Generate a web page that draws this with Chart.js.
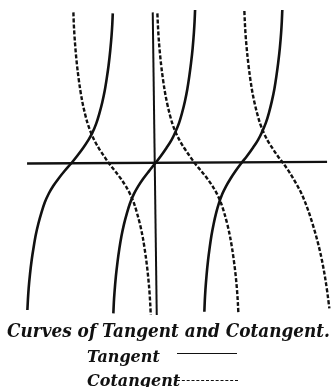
<!DOCTYPE html>
<html>
<head>
<meta charset="utf-8">
<script src="https://cdn.jsdelivr.net/npm/chart.js@4"></script>
<style>
  html, body { margin: 0; padding: 0; background: #fff; }
  #wrap { position: relative; width: 335px; height: 387px; overflow: hidden; }
  #plot { position: absolute; left: 0; top: 0; }
  .cap { position: absolute; font-family: "DejaVu Serif", serif; font-style: italic; font-weight: bold; color: #111; white-space: nowrap; transform-origin: 0 0; }
  .sample { position: absolute; }
</style>
</head>
<body>
<div id="wrap">
  <canvas id="plot" width="335" height="320"></canvas>
  <div class="cap" id="title" style="left:7px; top:319px; font-size:19px;">Curves of Tangent and Cotangent.</div>
  <div class="cap" style="left:87px; top:347px; font-size:16px;">Tangent</div>
  <div class="sample" style="left:177px; top:353px; width:60px; border-top:1.6px solid #111;"></div>
  <div class="cap" style="left:87px; top:371px; font-size:16px;">Cotangent</div>
  <div class="sample" style="left:177px; top:380px; width:61px; border-top:1.4px dashed #111;"></div>
</div>
<script>
// x in degrees (0 at the origin), y in tangent units
const tan1X = [-264.2, -263.1, -261.6, -258.8, -255.1, -251.1, -246.8, -241.3, -234.8, -228.3, -219.6, -210.8, -200.0, -186.9, -173.8,
  -161.3, -148.9, -138.5, -130.1, -121.8, -115.6, -109.3, -104.1, -100.0, -96.2, -92.7, -90.0, -88.5, -87.5];
const tan1Y = [-4.44, -4.12, -3.79, -3.35, -2.90, -2.52, -2.16, -1.81, -1.47, -1.18, -0.90, -0.68, -0.46, -0.22, 0,
  0.23, 0.47, 0.70, 0.92, 1.21, 1.50, 1.85, 2.21, 2.58, 2.97, 3.43, 3.88, 4.22, 4.55];

const tan2X = [-86.3, -85.3, -83.8, -81.1, -77.6, -73.8, -69.7, -64.5, -58.2, -52.0, -43.7, -35.4, -25.0, -12.5, 0,
  12.0, 23.9, 33.9, 41.9, 49.9, 55.8, 61.8, 66.8, 70.8, 74.4, 77.8, 80.4, 81.8, 82.8];
const tan2Y = [-4.54, -4.21, -3.88, -3.42, -2.97, -2.57, -2.21, -1.85, -1.50, -1.21, -0.92, -0.70, -0.47, -0.23, 0,
  0.23, 0.48, 0.71, 0.95, 1.24, 1.53, 1.89, 2.26, 2.64, 3.04, 3.50, 3.97, 4.31, 4.65];

const tan3X = [102.0, 102.9, 104.2, 106.6, 109.7, 113.0, 116.6, 121.2, 126.7, 132.2, 139.5, 146.8, 156.0, 166.9, 177.9,
  190.3, 202.6, 212.9, 221.1, 229.4, 235.5, 241.7, 246.9, 251.0, 254.7, 258.2, 260.9, 262.3, 263.3];
const tan3Y = [-4.49, -4.16, -3.83, -3.38, -2.93, -2.55, -2.19, -1.83, -1.48, -1.20, -0.91, -0.69, -0.46, -0.22, 0,
  0.23, 0.48, 0.71, 0.95, 1.24, 1.53, 1.89, 2.26, 2.64, 3.04, 3.50, 3.97, 4.31, 4.65];

const cot1X = [-169.0, -168.2, -166.9, -164.6, -161.6, -158.4, -154.8, -150.4, -145.0, -139.7, -132.6, -125.5, -116.6, -105.9, -95.2,
  -82.7, -70.3, -59.9, -51.5, -43.2, -37.0, -30.7, -25.5, -21.4, -17.6, -14.1, -11.4, -10.0, -8.9];
const cot1Y = [4.58, 4.25, 3.91, 3.45, 2.99, 2.60, 2.23, 1.86, 1.51, 1.22, 0.93, 0.70, 0.47, 0.23, 0,
  -0.23, -0.47, -0.70, -0.93, -1.22, -1.52, -1.87, -2.23, -2.60, -3.00, -3.46, -3.92, -4.25, -4.59];

const cot2X = [4.8, 5.8, 7.1, 9.5, 12.7, 16.1, 19.9, 24.6, 30.2, 35.8, 43.4, 50.9, 60.3, 71.5, 82.8,
  95.7, 108.7, 119.5, 128.1, 136.8, 143.2, 149.7, 155.1, 159.4, 163.3, 167.0, 169.8, 171.3, 172.4];
const cot2Y = [4.55, 4.22, 3.88, 3.43, 2.97, 2.58, 2.21, 1.85, 1.50, 1.21, 0.92, 0.70, 0.47, 0.23, 0,
  -0.23, -0.47, -0.70, -0.92, -1.21, -1.50, -1.85, -2.21, -2.57, -2.97, -3.42, -3.88, -4.21, -4.54];

const cot3X = [184.8, 185.8, 187.1, 189.7, 193.0, 196.5, 200.3, 205.2, 211.0, 216.9, 224.7, 232.4, 242.2, 253.8, 265.5,
  277.9, 289.7, 304.2, 316.6, 327.0, 337.3, 345.0, 351.8, 356.5, 360.7];
const cot3Y = [4.62, 4.28, 3.94, 3.48, 3.02, 2.62, 2.25, 1.88, 1.53, 1.23, 0.94, 0.71, 0.48, 0.23, 0,
  -0.26, -0.55, -0.95, -1.41, -1.88, -2.42, -2.91, -3.45, -3.91, -4.39];

// the two drawn axes (slightly off true in the print)
const xAxisX = [-264.8, 355.9];
const xAxisY = [0, 0.05];
const yAxisX = [-4.8, 3.5];
const yAxisY = [4.58, -4.59];

const xRange = [-265, 362];
const yRange = [-4.62, 4.652];

const ink = '#111';

function pts(xs, ys) {
  return xs.map((x, i) => ({ x, y: ys[i] }));
}

function curve(xs, ys, dashed) {
  return {
    data: pts(xs, ys),
    borderColor: ink,
    borderWidth: dashed ? 2.4 : 2.6,
    borderDash: dashed ? [4, 2] : [],
    pointRadius: 0,
    cubicInterpolationMode: 'monotone',
    clip: false
  };
}

function axisLine(xs, ys, w) {
  return { data: pts(xs, ys), borderColor: ink, borderWidth: w, pointRadius: 0, tension: 0, clip: false };
}

new Chart(document.getElementById('plot').getContext('2d'), {
  type: 'scatter',
  data: {
    datasets: [
      axisLine(xAxisX, xAxisY, 2.4),
      axisLine(yAxisX, yAxisY, 2),
      curve(tan1X, tan1Y, false),
      curve(tan2X, tan2Y, false),
      curve(tan3X, tan3Y, false),
      curve(cot1X, cot1Y, true),
      curve(cot2X, cot2Y, true),
      curve(cot3X, cot3Y, true)
    ].map(d => ({ ...d, showLine: true }))
  },
  options: {
    responsive: false,
    animation: false,
    layout: { padding: { left: 27, right: 5, top: 10, bottom: 4 } },
    plugins: { legend: { display: false }, tooltip: { enabled: false } },
    scales: {
      x: { type: 'linear', min: xRange[0], max: xRange[1], display: false },
      y: { type: 'linear', min: yRange[0], max: yRange[1], display: false }
    }
  }
});

// squeeze the caption to the printed width
const title = document.getElementById('title');
const w = title.getBoundingClientRect().width;
if (w > 0) title.style.transform = 'scaleX(' + (323 / w) + ')';
</script>
</body>
</html>
